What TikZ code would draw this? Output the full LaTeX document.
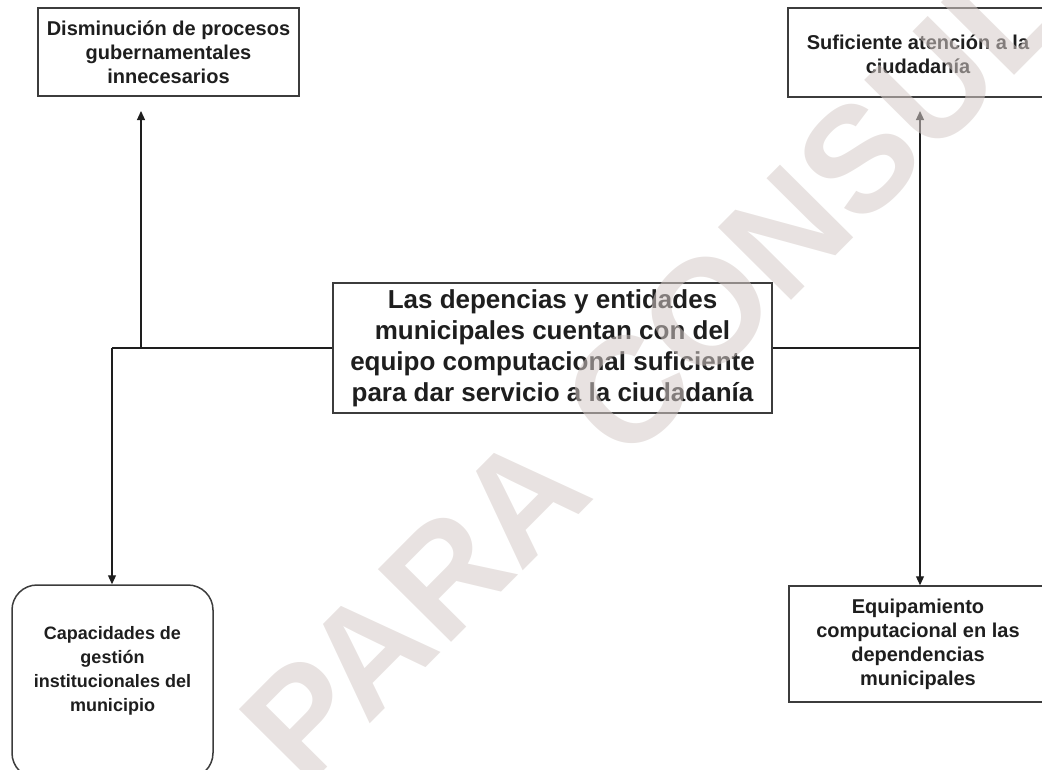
\documentclass[tikz,border=0pt]{standalone}
\usepackage{fontspec}
\setmainfont{Liberation Sans}
\usetikzlibrary{arrows.meta}
\definecolor{wm}{RGB}{213,203,200}
\definecolor{ink}{RGB}{30,30,30}
\definecolor{edge}{RGB}{60,60,60}
\tikzset{
  box/.style={draw=edge, line width=1.5pt, fill=none, rectangle, inner sep=0pt},
  txt/.style={align=center, text=ink, font=\fontsize{20}{24}\selectfont\bfseries},
  link/.style={draw=ink, line width=1.2pt},
  arr/.style={link, -{Triangle[length=9pt,width=8pt]}}
}
\begin{document}
\begin{tikzpicture}[x=1pt,y=-1pt]
\clip (0,0) rectangle (1042,769);
\useasboundingbox (0,0) rectangle (1042,769);
% boxes
\node[box, minimum width=261, minimum height=88] (tl) at (168.5,52) {};
\node[txt] (tltext) at (168.5,52) {Disminución de procesos\\gubernamentales\\innecesarios};
\node[box, minimum width=262, minimum height=89] (tr) at (919,52.5) {};
\node[txt] (trtext) at (918,54) {Suficiente atención a la\\ciudadanía};
\node[box, minimum width=439, minimum height=130] (c) at (552.5,348) {};
\node[txt, font=\fontsize{26}{31}\selectfont\bfseries] (ctext) at (552.5,348) {Las depencias y entidades\\municipales cuentan con del\\equipo computacional suficiente\\para dar servicio a la ciudadanía};
\node[box, rounded corners=25pt, minimum width=201, minimum height=193] (bl) at (112.5,681.5) {};
\node[txt, font=\fontsize{18}{24}\selectfont\bfseries] (bltext) at (112.5,671) {Capacidades de\\gestión\\institucionales del\\municipio};
\node[box, minimum width=260, minimum height=116] (br) at (919,644) {};
\node[txt] (brtext) at (918,644) {Equipamiento\\computacional en las\\dependencias\\municipales};
% connectors
\coordinate (jl) at (112,348);
\coordinate (jl2) at (141,348);
\coordinate (tipl) at (141,111);
\coordinate (jr) at (920,348);
\coordinate (tipr) at (920,111);
\draw[link] (c.west) -- (jl);
\draw[arr] (jl) -- (bl.north -| jl);
\draw[arr] (jl2) -- (tipl);
\draw[link] (c.east) -- (jr);
\draw[arr] (jr) -- (tipr);
\draw[arr] (jr) -- (br.north -| jr);
% watermark
\node[rotate=45.2, anchor=base west, text=wm, text opacity=0.55, inner sep=0pt, font=\fontsize{150}{150}\selectfont\bfseries] (wmark) at (305,790) {PARA CONSULTA};
\end{tikzpicture}
\end{document}
